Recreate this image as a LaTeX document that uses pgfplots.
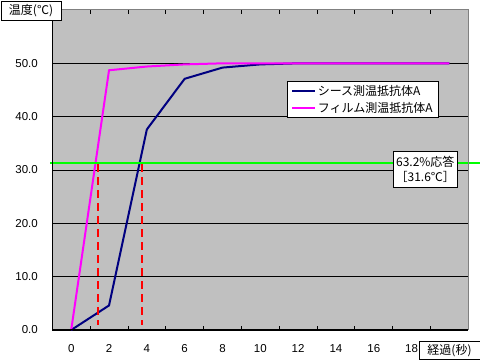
\documentclass[border=0pt]{standalone}
\usepackage{pgfplots}
\pgfplotsset{compat=1.18}
\usepackage{fontspec}
\setmainfont{Liberation Sans}
\newfontfamily\jp{Noto Sans CJK JP}
\definecolor{plotgray}{RGB}{192,192,192}
\definecolor{bordergray}{RGB}{128,128,128}
\definecolor{navy}{RGB}{0,0,128}
\definecolor{mag}{RGB}{255,0,255}
\definecolor{grn}{RGB}{0,255,0}
\definecolor{rd}{RGB}{255,0,0}
\begin{document}
\begin{tikzpicture}[x=1pt,y=1pt]
\path[use as bounding box, fill=white] (0,0) rectangle (480,363);
\begin{axis}[
  at={(52.3pt,33pt)}, anchor=south west,
  scale only axis, width=416pt, height=320pt,
  xmin=-1, xmax=21, ymin=0, ymax=60,
  axis background/.style={fill=plotgray},
  axis line style={draw=none},
  xtick={0,2,...,18}, minor xtick={1,3,...,19},
  ytick={0,10,...,50},
  major tick length=0pt, minor tick length=4pt,
  minor tick style={black, line width=0.8pt},
  tick align=inside,
  ymajorgrids, major grid style={black, line width=0.8pt},
  /pgf/number format/assume math mode=true,
  tick label style={font=\fontsize{11.5}{13}\selectfont},
  yticklabel style={/pgf/number format/fixed, /pgf/number format/fixed zerofill, /pgf/number format/precision=1, xshift=-11pt},
  xticklabel style={yshift=-11pt},
  clip=false,
  legend style={at={(0.5635,0.778)}, anchor=north west, draw=black, fill=white, line width=0.8pt,
    font=\jp\fontsize{12}{14}\selectfont, inner xsep=4pt, inner ysep=2pt, row sep=1pt},
  legend cell align=left,
  legend image code/.code={\draw[#1] (0pt,0pt) -- (22.7pt,0pt);},
]
\addplot[navy, line width=2pt] coordinates {(0,0) (2,4.6) (4,37.6) (6,47.1) (8,49.2) (10,49.8) (12,50) (14,50) (16,50) (18,50) (20,50)};
\addlegendentry{シース測温抵抗体A}
\addplot[mag, line width=2pt] coordinates {(0,0) (2,48.7) (4,49.4) (6,49.8) (8,50) (10,50) (12,50) (14,50) (16,50) (18,50) (20,50)};
\addlegendentry{フィルム測温抵抗体A}
\addplot[grn, line width=2pt, forget plot] coordinates {(-1.12,31.3) (21.62,31.3)};
\addplot[rd, line width=2pt, dash pattern=on 8pt off 5pt, forget plot] coordinates {(1.43,31.1) (1.43,0.9)};
\addplot[rd, line width=2pt, dash pattern=on 8pt off 5pt, forget plot] coordinates {(3.76,31.1) (3.76,0.9)};
\draw[bordergray, line width=1pt] (rel axis cs:0,1) -- (rel axis cs:1,1) -- (rel axis cs:1,0);
\draw[black, line width=1pt] (rel axis cs:0,1) -- (rel axis cs:0,0) -- (rel axis cs:1,0);
\end{axis}
\node[draw=black, fill=white, line width=0.8pt, minimum width=60pt, minimum height=19pt, inner sep=0pt, font=\jp\fontsize{12}{14}\selectfont] at (31,352.5) {温度(℃)};
\node[draw=black, fill=white, line width=0.8pt, minimum width=61pt, minimum height=17.5pt, inner sep=0pt, font=\jp\fontsize{12}{14}\selectfont] at (449.5,12.7) {経過(秒)};
\node[draw=black, fill=white, line width=0.8pt, minimum width=64.7pt, minimum height=35.6pt, inner sep=0pt, align=center, font=\jp\fontsize{12}{15}\selectfont] at (425.3,193.5) {63.2\%応答\\［31.6℃］};
\end{tikzpicture}
\end{document}
